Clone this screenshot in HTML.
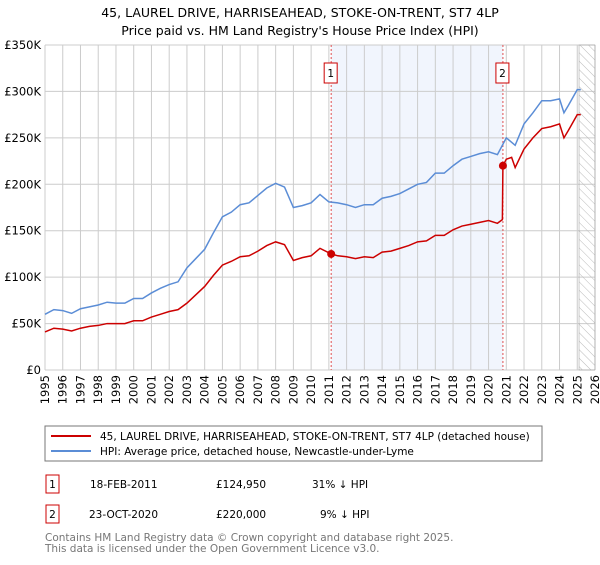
<!DOCTYPE html>
<html><head><meta charset="utf-8"><style>
body{margin:0;background:#fff;font-family:"Liberation Sans","DejaVu Sans",sans-serif;}
svg text{font-family:"DejaVu Sans","Liberation Sans",sans-serif;}
</style></head><body>
<svg id="c" width="600" height="560">
<defs><pattern id="hatch" width="6" height="6" patternUnits="userSpaceOnUse" patternTransform="rotate(-45)"><line x1="0" y1="0" x2="0" y2="6" stroke="#bbb" stroke-width="1"/></pattern></defs>
<text x="300" y="17" text-anchor="middle" font-size="12.5">45, LAUREL DRIVE, HARRISEAHEAD, STOKE-ON-TRENT, ST7 4LP</text>
<text x="300" y="35" text-anchor="middle" font-size="12.5">Price paid vs. HM Land Registry's House Price Index (HPI)</text>
<g id="plot"></g>
<rect x="45" y="426" width="497" height="35" fill="#fff" stroke="#777"/>
<line x1="51" y1="436" x2="91" y2="436" stroke="#cc0000" stroke-width="2"/>
<text x="100" y="440" font-size="10.5">45, LAUREL DRIVE, HARRISEAHEAD, STOKE-ON-TRENT, ST7 4LP (detached house)</text>
<line x1="51" y1="451" x2="91" y2="451" stroke="#5b8dd6" stroke-width="2"/>
<text x="100" y="455" font-size="10.5">HPI: Average price, detached house, Newcastle-under-Lyme</text>
<g font-size="10.5">
<rect x="46" y="475" width="13" height="18" fill="none" stroke="#cc0000"/>
<text x="52.5" y="488" text-anchor="middle">1</text>
<text x="90" y="488">18-FEB-2011</text><text x="216" y="488">£124,950</text><text x="312" y="488">31% ↓ HPI</text>
<rect x="46" y="505" width="13" height="18" fill="none" stroke="#cc0000"/>
<text x="52.5" y="518" text-anchor="middle">2</text>
<text x="89" y="518">23-OCT-2020</text><text x="216" y="518">£220,000</text><text x="320" y="518">9% ↓ HPI</text>
</g>
<text x="45" y="541" font-size="10.5" fill="#777">Contains HM Land Registry data © Crown copyright and database right 2025.</text>
<text x="45" y="552" font-size="10.5" fill="#777">This data is licensed under the Open Government Licence v3.0.</text>
</svg>
<script>
const yTicks=[0,50,100,150,200,250,300,350];
const yTickLabels=["£0","£50K","£100K","£150K","£200K","£250K","£300K","£350K"];
const xYears=[1995,1996,1997,1998,1999,2000,2001,2002,2003,2004,2005,2006,2007,2008,2009,2010,2011,2012,2013,2014,2015,2016,2017,2018,2019,2020,2021,2022,2023,2024,2025,2026];
const hpiDates=[1995,1995.5,1996,1996.5,1997,1997.5,1998,1998.5,1999,1999.5,2000,2000.5,2001,2001.5,2002,2002.5,2003,2003.5,2004,2004.5,2005,2005.5,2006,2006.5,2007,2007.5,2008,2008.5,2009,2009.5,2010,2010.5,2011,2011.5,2012,2012.5,2013,2013.5,2014,2014.5,2015,2015.5,2016,2016.5,2017,2017.5,2018,2018.5,2019,2019.5,2020,2020.5,2021,2021.5,2022,2022.5,2023,2023.5,2024,2024.25,2024.5,2025,2025.2];
const hpiValues=[60,65,64,61,66,68,70,73,72,72,77,77,83,88,92,95,110,120,130,148,165,170,178,180,188,196,201,197,175,177,180,189,181,180,178,175,178,178,185,187,190,195,200,202,212,212,220,227,230,233,235,232,250,242,265,277,290,290,292,277,285,302,302];
const priceDates=[1995,1995.5,1996,1996.5,1997,1997.5,1998,1998.5,1999,1999.5,2000,2000.5,2001,2001.5,2002,2002.5,2003,2003.5,2004,2004.5,2005,2005.5,2006,2006.5,2007,2007.5,2008,2008.5,2009,2009.5,2010,2010.5,2011.13,2011.5,2012,2012.5,2013,2013.5,2014,2014.5,2015,2015.5,2016,2016.5,2017,2017.5,2018,2018.5,2019,2019.5,2020,2020.5,2020.78,2020.81,2021,2021.3,2021.5,2022,2022.5,2023,2023.5,2024,2024.25,2024.5,2025,2025.2];
const priceValues=[41,45,44,42,45,47,48,50,50,50,53,53,57,60,63,65,72,81,90,102,113,117,122,123,128,134,138,135,118,121,123,131,125,123,122,120,122,121,127,128,131,134,138,139,145,145,151,155,157,159,161,158,162,220,227,229,218,238,250,260,262,265,250,258,275,275];
const saleDates=[2011.13,2020.81];
const saleValues=[124.95,220];
const saleLabels=["1","2"];
const shadeRange=[2011.13,2020.81];
const forecastStart=2025.1;

const X0=45,X1=595,Y0=370,Y1=45;
const xs=y=>X0+(y-1995)/(2026-1995)*(X1-X0);
const ys=v=>Y0-v/350*(Y0-Y1);
const NS="http://www.w3.org/2000/svg";
const g=document.getElementById('plot');
function mk(t,a){const e=document.createElementNS(NS,t);for(const k in a)e.setAttribute(k,a[k]);g.appendChild(e);return e;}
let e=mk('rect',{x:xs(shadeRange[0]),y:Y1,width:xs(shadeRange[1])-xs(shadeRange[0]),height:Y0-Y1,fill:'#eef3fc',opacity:0.8});


yTicks.forEach((v,i)=>{
 let l=mk('line',{x1:X0,x2:X1,y1:ys(v),y2:ys(v),stroke:'#ccc'});
 
 
 let t=mk('text',{x:X0-4,y:ys(v)+4,'text-anchor':'end','font-size':'11.5'});t.textContent=yTickLabels[i];
 
 
});
xYears.forEach(yr=>{
 let l=mk('line',{x1:xs(yr),x2:xs(yr),y1:Y1,y2:Y0,stroke:'#ccc'});
 
 
 let t=mk('text',{x:0,y:0,'font-size':'11.5','text-anchor':'end',transform:`translate(${xs(yr)+4},${Y0+5}) rotate(-90)`});t.textContent=yr;
 
 
});
e=mk('rect',{x:xs(forecastStart),y:Y1,width:X1-xs(forecastStart),height:Y0-Y1,fill:'url(#hatch)',stroke:'#999','stroke-width':0.5});


saleDates.forEach((d,i)=>{
 let l=mk('line',{x1:xs(d),x2:xs(d),y1:Y1,y2:Y0,stroke:'#e05050','stroke-dasharray':'2,2'});
 
 
 let r=mk('rect',{x:xs(d)-7,y:63,width:13,height:20,fill:'#fff',stroke:'#cc0000'});
 
 
 let t=mk('text',{x:xs(d)-0.5,y:77,'text-anchor':'middle','font-size':'10.5'});t.textContent=saleLabels[i];
 
 
});
function line(dates,vals,col,name){
 const p=mk('polyline',{points:dates.map((d,i)=>xs(d)+','+ys(vals[i])).join(' '),fill:'none',stroke:col,'stroke-width':1.5});
 
 
}
line(hpiDates,hpiValues,'#5b8dd6','hpi-line');
line(priceDates,priceValues,'#cc0000','price-line');
saleDates.forEach((d,i)=>{
 const c=mk('circle',{cx:xs(d),cy:ys(saleValues[i]),r:4,fill:'#cc0000'});
 
 
});
</script>
</body></html>
